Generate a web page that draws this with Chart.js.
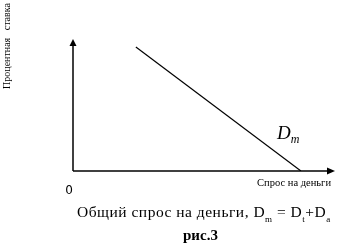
<!DOCTYPE html>
<html><head><meta charset="utf-8">
<script src="https://cdn.jsdelivr.net/npm/chart.js@4/dist/chart.umd.min.js"></script>
<style>
html,body{margin:0;padding:0;background:#fff;overflow:hidden}
#wrap{position:relative;width:361px;height:245px}
canvas{position:absolute;left:0;top:0}
.t{position:absolute;font-family:"Liberation Serif","Times New Roman",serif;color:#000;white-space:nowrap;line-height:1}
sub{font-size:58%;vertical-align:-0.55em;line-height:0}
</style></head>
<body><div id="wrap"><canvas id="c" width="361" height="245"></canvas>
<div class="t" id="cap" style="left:77px;top:204px;font-size:15.5px;letter-spacing:0.5px">Общий спрос на деньги, D<sub>m</sub> = D<sub>t</sub>+D<sub>a</sub></div>
<div class="t" style="left:183px;top:228px;font-size:15px;font-weight:bold">рис.3</div>
</div>
<script>
const xLabel = "Спрос на деньги";
const yLabel = "Процентная ставка";
const curveLabel = "D";
const curveSub = "m";
const originLabel = "0";
const demandX = [24, 87];
const demandY = [94, 0];

const annot = {
  id: 'annot',
  afterDraw(chart) {
    const ctx = chart.ctx, a = chart.chartArea;
    const xs = chart.scales.x, ys = chart.scales.y;
    const x0 = xs.getPixelForValue(0), y0 = ys.getPixelForValue(0);
    ctx.save();
    ctx.strokeStyle = '#000'; ctx.fillStyle = '#000'; ctx.lineWidth = 1.5;
    // y axis
    ctx.beginPath(); ctx.moveTo(x0, y0); ctx.lineTo(x0, a.top + 5); ctx.stroke();
    ctx.beginPath(); ctx.moveTo(x0, a.top); ctx.lineTo(x0 - 3.5, a.top + 7); ctx.lineTo(x0 + 3.5, a.top + 7); ctx.closePath(); ctx.fill();
    // x axis
    ctx.beginPath(); ctx.moveTo(x0, y0); ctx.lineTo(a.right - 5, y0); ctx.stroke();
    ctx.beginPath(); ctx.moveTo(a.right, y0); ctx.lineTo(a.right - 8, y0 - 3.5); ctx.lineTo(a.right - 8, y0 + 3.5); ctx.closePath(); ctx.fill();
    // labels
    ctx.font = '10.5px "Liberation Serif", serif';
    ctx.textAlign = 'right'; ctx.textBaseline = 'alphabetic';
    ctx.fillText(xLabel, 331, 186);
    ctx.font = '12px "DejaVu Sans", sans-serif';
    ctx.textAlign = 'center'; ctx.textBaseline = 'middle';
    ctx.fillText(originLabel, 69, 191);
    ctx.save();
    ctx.translate(7, 46); ctx.rotate(-Math.PI / 2);
    ctx.font = '10px "Liberation Serif", serif';
    ctx.textAlign = 'center';
    ctx.fillText(yLabel.replace(' ', '   '), 0, 0);
    ctx.restore();
    // Dm
    ctx.font = 'italic 19px "Liberation Serif", serif';
    ctx.textAlign = 'left'; ctx.textBaseline = 'alphabetic';
    ctx.fillText(curveLabel, 277, 139);
    const w = ctx.measureText(curveLabel).width;
    ctx.font = 'italic 12px "Liberation Serif", serif';
    ctx.fillText(curveSub, 277 + w, 143);
    ctx.restore();
  }
};

new Chart(document.getElementById('c'), {
  type: 'scatter',
  data: { datasets: [{
    data: demandX.map((x, i) => ({ x, y: demandY[i] })),
    showLine: true, borderColor: '#000', borderWidth: 1.2, pointRadius: 0, fill: false
  }]},
  options: {
    responsive: false, animation: false,
    layout: { padding: { left: 73, right: 26, top: 39, bottom: 74 } },
    plugins: { legend: { display: false }, tooltip: { enabled: false } },
    scales: {
      x: { type: 'linear', min: 0, max: 100, display: false },
      y: { type: 'linear', min: 0, max: 100, display: false }
    }
  },
  plugins: [annot]
});
</script></body></html>
